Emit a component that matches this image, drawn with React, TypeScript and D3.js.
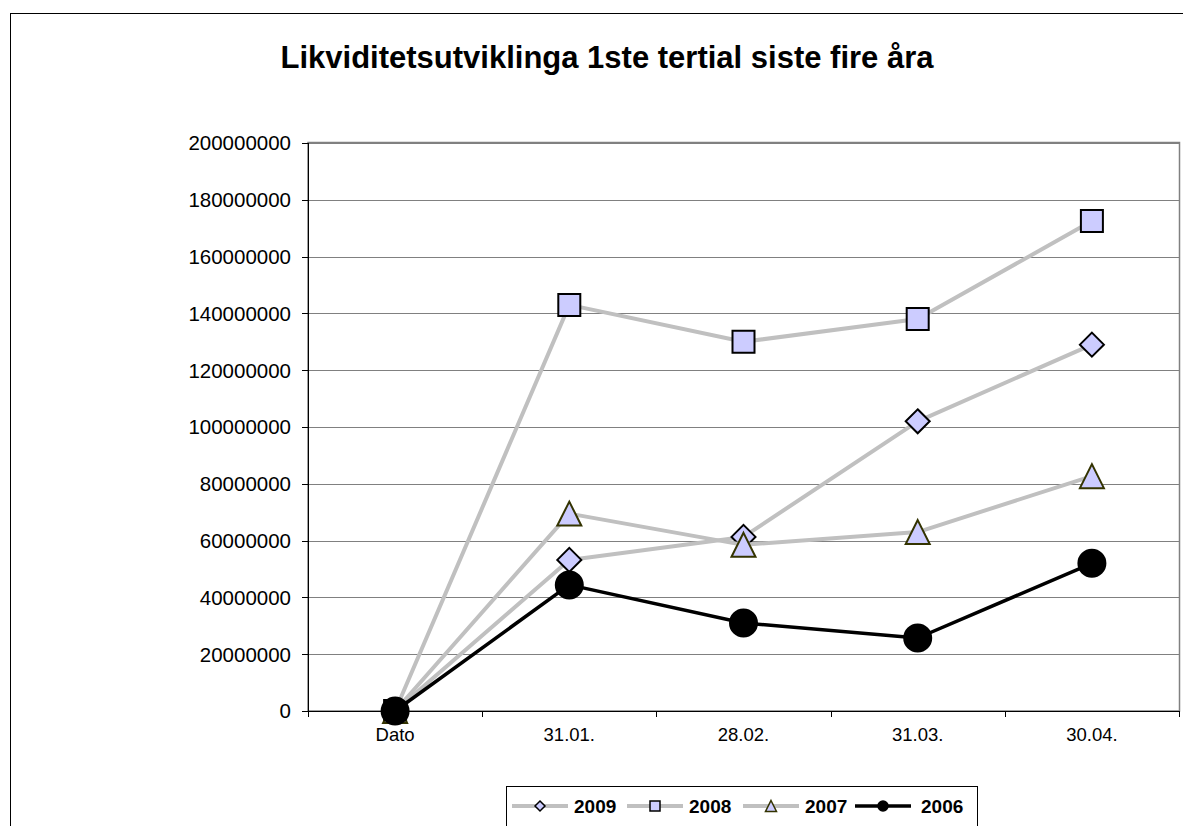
import React from 'react';
import * as d3 from 'd3';

const categories = ['Dato', '31.01.', '28.02.', '31.03.', '30.04.'];
const s2009 = [0, 53200000, 61300000, 102000000, 129000000];
const s2008 = [0, 143000000, 130000000, 138000000, 172500000];
const s2007 = [0, 69500000, 58500000, 63000000, 82700000];
const s2006 = [0, 44400000, 31000000, 25700000, 52000000];
const yTicks = [0, 20000000, 40000000, 60000000, 80000000, 100000000, 120000000, 140000000, 160000000, 180000000, 200000000];
const seriesNames = ['2009', '2008', '2007', '2006'];

const FONT = '"Liberation Sans", Arial, sans-serif';

type Shape = 'diamond' | 'square' | 'triangle' | 'circle';

const seriesStyle: { name: string; values: number[]; shape: Shape; line: string; width: number; fill: string; stroke: string }[] = [
  { name: seriesNames[0], values: s2009, shape: 'diamond', line: '#c0c0c0', width: 4, fill: '#ccccff', stroke: '#000000' },
  { name: seriesNames[1], values: s2008, shape: 'square', line: '#c0c0c0', width: 4, fill: '#ccccff', stroke: '#000000' },
  { name: seriesNames[2], values: s2007, shape: 'triangle', line: '#c0c0c0', width: 4, fill: '#ccccff', stroke: '#333300' },
  { name: seriesNames[3], values: s2006, shape: 'circle', line: '#000000', width: 3.5, fill: '#000000', stroke: '#000000' },
];

// marker path centred on 0,0
function marker(shape: Shape, r: number): string {
  if (shape === 'diamond') return `M0,${-r}L${r},0L0,${r}L${-r},0Z`;
  if (shape === 'square') return `M${-r},${-r}H${r}V${r}H${-r}Z`;
  if (shape === 'triangle') return `M0,${-r}L${r},${r}L${-r},${r}Z`;
  return d3.arc()({ innerRadius: 0, outerRadius: r, startAngle: 0, endAngle: Math.PI * 2 }) as string;
}

const bigSize: Record<Shape, number> = { diamond: 12, square: 11, triangle: 12, circle: 13.5 };
const smallSize: Record<Shape, number> = { diamond: 5, square: 5, triangle: 5.5, circle: 5 };

export default function App() {
  const left = 308, right = 1179, top = 143, bottom = 711;

  const x = d3.scaleBand<string>().domain(categories).range([left, right]);
  const y = d3.scaleLinear().domain([0, 200000000]).range([bottom, top]);
  const cx = (c: string) => (x(c) as number) + x.bandwidth() / 2;

  const line = d3.line<number>()
    .x((_, i) => cx(categories[i]))
    .y(d => y(d));

  const boundaries = categories.map(c => x(c) as number).concat([right]);

  // legend layout
  const legendItems = [
    { lx: 512, tx: 574 },
    { lx: 627, tx: 689 },
    { lx: 743, tx: 805 },
    { lx: 855, tx: 921 },
  ];

  return (
    <svg width={1183} height={826} style={{ position: 'absolute', left: 0, top: 0, background: '#fff' }} fontFamily={FONT}>
      <rect x={10.5} y={13.5} width={1200} height={830} fill="#fff" stroke="#000" />

      <text x={607} y={68} textAnchor="middle" fontSize={31} fontWeight="bold">
        Likviditetsutviklinga 1ste tertial siste fire åra
      </text>

      {/* plot area */}
      <rect x={left} y={top - 0.5} width={right - left + 0.5} height={bottom - top + 0.5} fill="none" stroke="#808080" strokeWidth={1.5} />
      {yTicks.map(t => (
        <g key={t}>
          <line x1={left} x2={right} y1={Math.round(y(t)) + 0.5} y2={Math.round(y(t)) + 0.5} stroke="#808080" />
          <line x1={left - 6} x2={left} y1={Math.round(y(t)) + 0.5} y2={Math.round(y(t)) + 0.5} stroke="#000" />
          <text x={291} y={y(t)} dy="0.36em" textAnchor="end" fontSize={20.5}>{String(t)}</text>
        </g>
      ))}
      <line x1={left + 0.5} x2={left + 0.5} y1={top} y2={bottom + 6} stroke="#000" />
      <line x1={left} x2={right} y1={bottom + 0.5} y2={bottom + 0.5} stroke="#000" />
      {boundaries.map((b, i) => (
        <line key={i} x1={Math.round(b) + 0.5} x2={Math.round(b) + 0.5} y1={bottom} y2={bottom + 6} stroke="#000" />
      ))}
      {categories.map(c => (
        <text key={c} x={cx(c)} y={741} textAnchor="middle" fontSize={18.5}>{c}</text>
      ))}

      {/* series */}
      {seriesStyle.map(s => (
        <g key={s.name}>
          <path d={line(s.values) as string} fill="none" stroke={s.line} strokeWidth={s.width} strokeLinejoin="round" />
          {s.values.map((v, i) => (
            <path key={i} d={marker(s.shape, bigSize[s.shape])} transform={`translate(${cx(categories[i])},${y(v)})`}
              fill={s.fill} stroke={s.stroke} strokeWidth={2} />
          ))}
        </g>
      ))}

      {/* legend */}
      <rect x={506.5} y={786.5} width={471} height={60} fill="#fff" stroke="#000" />
      {seriesStyle.map((s, i) => (
        <g key={s.name}>
          <line x1={legendItems[i].lx} x2={legendItems[i].lx + 56} y1={806} y2={806} stroke={s.line} strokeWidth={s.width} />
          <path d={marker(s.shape, smallSize[s.shape])} transform={`translate(${legendItems[i].lx + 28},806)`}
            fill={s.fill} stroke={s.stroke} strokeWidth={1.5} />
          <text x={legendItems[i].tx} y={806} dy="0.36em" fontSize={19} fontWeight="bold">{s.name}</text>
        </g>
      ))}
    </svg>
  );
}
